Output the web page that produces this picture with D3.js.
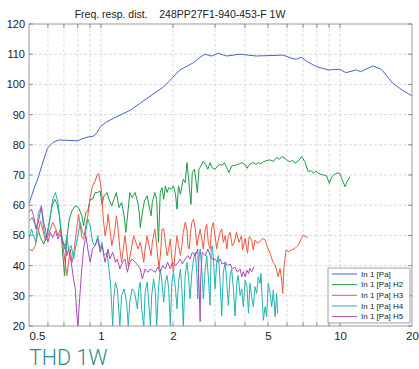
<!DOCTYPE html>
<html><head><meta charset="utf-8">
<script src="https://cdn.jsdelivr.net/npm/d3@7"></script>
<style>
html,body{margin:0;padding:0;background:#fff;}
svg{display:block;font-family:"Liberation Sans",Arial,sans-serif;}
</style></head>
<body><svg id="c" width="419" height="369"></svg>
<script>
// ---- data (frequency in kHz, level in dB) ----
const titleText = "Freq. resp. dist.    248PP27F1-940-453-F 1W";
const footText = "THD 1W";
const seriesNames = ["In 1 [Pa]","In 1 [Pa] H2","In 1 [Pa] H3","In 1 [Pa] H4","In 1 [Pa] H5"];
const xTickLabels = [0.5,1,2,5,10,20];
const yTicks = [20,30,40,50,60,70,80,90,100,110,120];

const fBlue = [0.5,0.51,0.525,0.542,0.565,0.597,0.63,0.667,0.72,0.796,0.862,0.933,0.96,0.995,1.05,1.13,1.33,1.56,1.83,2.14,2.44,2.6,2.72,2.9,3.1,3.36,3.81,4.47,5.78,6.3,6.56,6.88,7.2,7.96,8.9,9.94,10.6,11.7,12.2,13.7,14.9,16.6,18.3,20];
const dBlue = [60.5,62.5,65.5,68.3,73,78.8,80.8,81.6,81.5,81.3,82.4,82.9,84,86,87.5,88.8,91.5,95.4,99.2,104.8,107.2,109,110,109.4,110.3,109.4,110,109.4,109.7,108.6,108.3,109,107.8,105.9,104.8,105,103.9,104.8,104.2,106.1,105,100.4,98,96.2];

const fH2 = [0.5,0.516,0.531,0.546,0.558,0.576,0.595,0.609,0.625,0.641,0.656,0.67,0.688,0.704,0.722,0.737,0.756,0.781,0.806,0.832,0.846,0.864,0.881,0.901,0.922,0.946,0.967,0.992,1.01,1.03,1.06,1.08,1.11,1.14,1.16,1.19,1.22,1.25,1.27,1.3,1.32,1.35,1.39,1.43,1.45,1.46,1.49,1.52,1.56,1.59,1.62,1.64,1.68,1.71,1.74,1.77,1.8,1.83,1.86,1.89,1.92,1.97,2.01,2.05,2.08,2.11,2.15,2.18,2.21,2.25,2.29,2.32,2.36,2.38,2.41,2.46,2.49,2.53,2.57,2.62,2.68,2.74,2.8,2.86,2.92,3.0,3.08,3.15,3.22,3.28,3.36,3.43,3.52,3.64,3.75,3.88,4.01,4.08,4.2,4.34,4.45,4.56,4.67,4.78,4.94,5.1,5.27,5.43,5.57,5.7,5.89,6.03,6.18,6.33,6.48,6.62,6.75,6.91,7.13,7.36,7.55,7.73,7.92,8.11,8.31,8.51,8.79,9.02,9.23,9.45,9.68,9.99,10.1,10.5,10.7,11.0];
const dH2 = [54.8,55.9,53.7,52.1,49.3,47.1,50.4,54.8,59.8,62,60.3,56.5,46.6,36.7,49.9,55.4,58.1,59.8,59.2,56.5,53.2,57.6,58.1,62,62,64.2,64.2,64.7,60.3,63.1,64.2,62,59.8,62.5,64.2,59.2,60.9,56.5,51,58.7,64.2,62.5,64.2,60.3,56.5,52.6,57.6,61.4,63.1,59.8,56.5,60.9,64.2,62,47.7,64.2,65.8,62,66.4,64.2,65.8,65.3,66.4,63.6,58.7,66.4,63.6,66.4,68.6,67.5,74.1,69.7,63.1,60.3,70.8,71.9,68.6,64.2,71.9,73,74.6,73.5,71.9,74.1,72.4,71.9,73,73.5,73.2,74.1,72.4,70.8,73,73.2,73.5,74.1,73.5,72.2,73.6,74.1,73.5,74.1,73.7,74.4,74.8,75,74.5,75.8,75.2,76.1,75.5,74.8,74.4,74.9,73.9,74.4,75,76.1,74.4,71.1,71.5,70.6,71.2,70.6,70.2,70,69.7,67.2,69.4,70.1,70.6,70.6,69.4,66.1,67.8,69.4];

const fH3 = [0.5,0.516,0.531,0.546,0.558,0.57,0.586,0.6,0.614,0.628,0.645,0.661,0.676,0.687,0.705,0.72,0.732,0.744,0.756,0.768,0.785,0.806,0.819,0.832,0.846,0.864,0.881,0.901,0.922,0.946,0.96,0.976,0.992,1.01,1.02,1.04,1.06,1.07,1.09,1.11,1.14,1.16,1.18,1.2,1.22,1.24,1.26,1.28,1.3,1.34,1.37,1.4,1.43,1.46,1.48,1.51,1.53,1.56,1.59,1.62,1.64,1.68,1.7,1.72,1.75,1.78,1.8,1.83,1.86,1.89,1.92,1.95,1.98,2.01,2.05,2.08,2.11,2.15,2.18,2.21,2.25,2.29,2.31,2.34,2.37,2.4,2.44,2.48,2.52,2.55,2.6,2.64,2.68,2.73,2.77,2.81,2.86,2.9,2.95,3.0,3.05,3.1,3.15,3.2,3.25,3.31,3.36,3.41,3.47,3.54,3.61,3.69,3.78,3.87,3.91,4.01,4.1,4.17,4.27,4.33,4.41,4.51,4.63,4.75,4.86,4.96,5.1,5.23,5.35,5.43,5.51,5.61,5.7,5.76,5.83,5.95,6.08,6.28,6.48,6.69,6.85,7.03,7.19,7.33];
const dH3 = [45.5,44.9,46.6,51,54.8,52.1,48.2,49.9,52.1,54.3,52.6,49.9,52.1,48.8,42.2,36.7,41.1,45.5,41.1,43.3,49.9,57,53.2,49.3,48.8,53.2,56.5,62.5,66.4,68,69.7,70.5,68,63.1,56.5,49.9,53.2,57,52.1,46.6,51,56.5,52.1,45.5,41.1,45.5,49.9,45.5,40,45.5,49.9,47.7,45.5,47.7,45.5,41.1,45.5,49.9,46.6,43.3,47.7,52.1,48.8,44.4,38.9,45.5,52.1,52.1,47.7,43.3,45.5,48.8,42.2,37.8,45.5,49.9,46.6,43.3,46.6,51,54.3,52.1,46.6,45.5,51,54.3,55.4,52.1,46.6,48.8,52.1,48.8,45.5,52.1,53.7,47.7,45.5,52.1,54.3,49.9,45.5,48.8,51,52.1,47.7,49.9,45.5,49.9,51,46.6,47.7,51,47.7,49.9,45.2,49,44.1,49.6,48.5,45.2,48.5,47.4,48,49,48.5,46.3,44.1,41.3,40.2,38.5,36.3,39.1,35.2,30.8,39.7,45.2,44.6,45.2,45.7,46.8,48.5,50.1,49.6,49.4];

const fH4 = [0.5,0.512,0.523,0.534,0.547,0.563,0.576,0.589,0.6,0.614,0.628,0.645,0.661,0.676,0.692,0.705,0.72,0.732,0.751,0.768,0.781,0.801,0.819,0.838,0.859,0.881,0.901,0.922,0.946,0.97,0.992,1.01,1.03,1.06,1.08,1.1,1.12,1.13,1.15,1.17,1.2,1.22,1.25,1.28,1.3,1.32,1.35,1.38,1.39,1.42,1.44,1.46,1.48,1.51,1.53,1.56,1.58,1.61,1.63,1.66,1.69,1.71,1.74,1.77,1.8,1.83,1.86,1.89,1.92,1.95,1.98,2.01,2.05,2.08,2.11,2.15,2.18,2.21,2.25,2.29,2.32,2.36,2.4,2.44,2.48,2.52,2.54,2.57,2.6,2.64,2.68,2.73,2.77,2.81,2.86,2.89,2.92,2.96,3.0,3.05,3.1,3.15,3.2,3.25,3.31,3.36,3.41,3.47,3.52,3.58,3.64,3.7,3.75,3.82,3.88,3.94,4.01,4.08,4.14,4.2,4.27,4.34,4.41,4.48,4.55,4.63,4.67,4.72,4.78,4.86,4.93,5.01,5.1,5.18,5.26,5.35,5.43,5.48];
const dH4 = [48.8,52.1,49.9,47.7,57.6,59.2,52.1,48.8,51,56.5,62,64.2,60.9,54.3,47.7,45.5,49.9,45.5,46.6,42.2,45.5,49.9,54.3,51,49.9,55.4,53.2,47.7,46.6,49.9,45.5,47.7,43.3,44.4,38.9,32.3,20,29,34.5,32.3,20,30.1,32.3,27.9,20,27.9,32.3,31.2,30.1,25.7,32.3,34.5,25.7,20,31.2,34.5,29,20,30.1,35.6,31.2,20,32.3,38.9,34.5,27.9,34.5,36.7,32.3,20,34.5,37.8,32.3,25.7,34.5,38.9,32.3,20,36.7,41.1,36.7,29,37.8,42.2,44.4,36.7,29,42.2,45.5,38.9,29,38.9,43.3,36.7,26.8,45.5,46.6,41.1,32.3,41.1,43.3,34.5,23.3,37.8,41.1,34.5,26.8,36.7,38.9,32.3,23.3,34.5,36.7,30.1,32.3,26.4,35.2,33,24.2,34.1,29.7,26.4,33,30.8,36.3,34.1,37.4,29.7,21.9,26.4,23.1,34.1,30.8,26.4,31.9,23.1,30.8,24.2];

const fH5 = [0.5,0.512,0.523,0.534,0.547,0.563,0.576,0.589,0.6,0.614,0.628,0.645,0.661,0.676,0.687,0.705,0.72,0.732,0.751,0.768,0.781,0.793,0.801,0.811,0.827,0.846,0.864,0.881,0.901,0.922,0.946,0.97,0.992,1.01,1.04,1.07,1.09,1.12,1.15,1.17,1.2,1.23,1.26,1.29,1.32,1.35,1.39,1.43,1.46,1.49,1.53,1.57,1.61,1.64,1.69,1.73,1.77,1.81,1.86,1.9,1.95,1.99,2.05,2.1,2.15,2.19,2.25,2.31,2.36,2.41,2.48,2.54,2.58,2.6,2.61,2.65,2.73,2.8,2.86,2.92,3.0,3.08,3.15,3.21,3.31,3.38,3.47,3.54,3.64,3.72,3.82,3.88,3.94,4.01,4.08,4.14,4.2,4.27,4.37];
const dH5 = [57.6,58.7,56.5,52.1,54.3,59.8,54.3,51,47.7,51,49.3,51.5,48.8,50.4,48.8,46.6,43.3,45.5,41.1,35.6,32.3,23.5,20,26.8,36.7,45.5,49.9,45.5,41.1,45.5,46.6,48.8,44.4,46.6,41.1,45.5,42.2,44.4,41.1,42.2,38.9,41.1,42.2,37.8,41.1,42.2,41.1,40,38.9,35.6,38.9,37.8,38.9,38.4,37.8,39.5,37.8,40,38.9,41.1,38.9,41.1,40,41.1,42.2,40.5,42.2,43.3,42.2,44.4,43.3,45.5,30,21.5,35,44.4,43.3,45.5,43.3,42.2,42.2,41.1,42.2,40.5,41.1,40,40.5,38.9,39.5,37.8,38.9,36.3,38,36.3,38.5,37.4,39.1,38,39.6];

const colors = ["#4565cc","#1f9a45","#f0573f","#22b2b2","#a64db5"];

// ---- chart ----
const svg = d3.select("#c");
const L = 29, R = 412, T = 24, B = 326;
const x = d3.scaleLog().domain([0.5, 20]).range([L, R]);
const y = d3.scaleLinear().domain([20, 120]).range([B, T]);

const minorX = [0.6,0.7,0.8,0.9,1,2,3,4,5,6,7,8,9,10];
// grid
const grid = svg.append("g");
grid.selectAll("line.v").data(minorX).join("line")
  .attr("x1", d => x(d)).attr("x2", d => x(d)).attr("y1", T).attr("y2", B)
  .attr("stroke", "#d2d2d2").attr("stroke-width", 0.8).attr("stroke-dasharray", "3,2");
grid.selectAll("line.h").data(yTicks.slice(1, -1)).join("line")
  .attr("x1", L).attr("x2", R).attr("y1", d => y(d)).attr("y2", d => y(d))
  .attr("stroke", "#d2d2d2").attr("stroke-width", 0.8).attr("stroke-dasharray", "3,2");

// series
svg.append("clipPath").attr("id", "clip").append("rect")
  .attr("x", L).attr("y", T).attr("width", R - L).attr("height", B - T);
const series = [[fBlue,dBlue],[fH2,dH2],[fH3,dH3],[fH4,dH4],[fH5,dH5]];
const line = d3.line().x(d => x(d[0])).y(d => y(d[1]));
const plot = svg.append("g").attr("clip-path", "url(#clip)");
series.forEach((s, i) => {
  const pts = s[0].map((f, k) => [f, s[1][k]]);
  plot.append("path").datum(pts).attr("d", line)
    .attr("fill", "none").attr("stroke", colors[i]).attr("stroke-width", 1)
    .attr("stroke-linejoin", "round");
});

// frame
svg.append("rect").attr("x", L).attr("y", T).attr("width", R - L).attr("height", B - T)
  .attr("fill", "none").attr("stroke", "#9a9a9a").attr("stroke-width", 1);

// ticks (inward)
const tickG = svg.append("g").attr("stroke", "#777").attr("stroke-width", 0.8);
minorX.forEach(v => {
  tickG.append("line").attr("x1", x(v)).attr("x2", x(v)).attr("y1", B).attr("y2", B - 4);
  tickG.append("line").attr("x1", x(v)).attr("x2", x(v)).attr("y1", T).attr("y2", T + 4);
});
yTicks.forEach(v => {
  tickG.append("line").attr("x1", L).attr("x2", L + 4).attr("y1", y(v)).attr("y2", y(v));
  tickG.append("line").attr("x1", R).attr("x2", R - 4).attr("y1", y(v)).attr("y2", y(v));
});

// axis labels via d3 axes
const xAxis = d3.axisBottom(x).tickValues(xTickLabels).tickSize(0).tickPadding(0)
  .tickFormat(d => String(d));
const gx = svg.append("g").attr("transform", `translate(0,${B + 4})`).call(xAxis);
gx.select(".domain").remove();
gx.selectAll("text").attr("font-size", "11.5px").attr("fill", "#222")
  .attr("font-family", "Liberation Sans, Arial, sans-serif").attr("dy", "0.85em");
gx.selectAll(".tick").filter(d => d === 0.5).select("text").attr("text-anchor", "start").attr("x", 0);

const yAxis = d3.axisLeft(y).tickValues(yTicks).tickSize(0).tickPadding(4);
const gy = svg.append("g").attr("transform", `translate(${L},0)`).call(yAxis);
gy.select(".domain").remove();
gy.selectAll("text").attr("font-size", "11px").attr("fill", "#222")
  .attr("font-family", "Liberation Sans, Arial, sans-serif");

// title
svg.append("text").attr("x", 180).attr("y", 18).attr("text-anchor", "middle")
  .attr("font-size", "10.5px").attr("fill", "#222").style("white-space", "pre")
  .text(titleText);

// footer
svg.append("text").attr("x", 29).attr("y", 365)
  .attr("font-family", "Roboto, Liberation Sans, sans-serif").attr("font-weight", 300)
  .attr("font-size", "21.5px").attr("fill", "#2b8b95").text(footText);

// legend
const lg = svg.append("g");
lg.append("rect").attr("x", 328).attr("y", 268).attr("width", 82).attr("height", 55)
  .attr("fill", "#fff").attr("stroke", "#8a8a8a").attr("stroke-width", 0.8);
seriesNames.forEach((n, i) => {
  const yy = 274 + i * 10.65;
  lg.append("line").attr("x1", 332).attr("x2", 357).attr("y1", yy).attr("y2", yy)
    .attr("stroke", colors[i]).attr("stroke-width", 1);
  lg.append("text").attr("x", 361).attr("y", yy).attr("dy", "0.35em")
    .attr("font-size", "8px").attr("fill", "#222").text(n);
});
</script></body></html>
